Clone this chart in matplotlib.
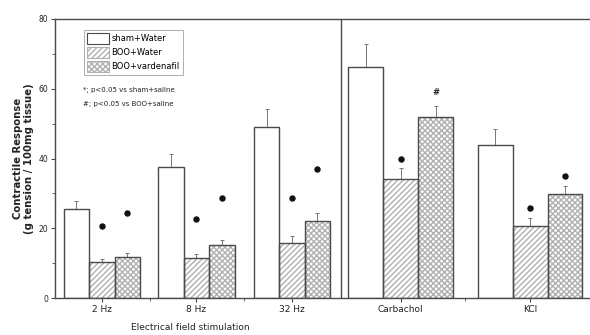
import matplotlib.pyplot as plt
import numpy as np

# data
groups = ['2 Hz', '8 Hz', '32 Hz', 'Carbachol', 'KCl']
series = ['sham+Water', 'BOO+Water', 'BOO+vardenafil']
sham = [25.4, 37.7, 48.9, 66.3, 44.0]
sham_err = [2.3, 3.5, 5.4, 6.6, 4.6]
boo_water = [10.3, 11.4, 15.7, 34.0, 20.6]
boo_water_err = [1.0, 1.2, 2.0, 3.4, 2.2]
boo_vard = [11.7, 15.1, 22.0, 52.0, 29.7]
boo_vard_err = [1.2, 1.5, 2.3, 3.0, 2.3]
# significance marks: (group, series index, y, symbol)
marks = [
    (0, 1, 20.6, '*'), (0, 2, 24.3, '*'),
    (1, 1, 22.6, '*'), (1, 2, 28.6, '*'),
    (2, 1, 28.6, '*'), (2, 2, 37.0, '*'),
    (3, 1, 40.0, '*'), (3, 2, 58.9, '#'),
    (4, 1, 25.7, '*'), (4, 2, 35.0, '*'),
]

# layout (x in pixel-ish units)
centers = [102, 197, 293, 402, 532]
widths = [25.5, 25.5, 25.5, 35, 35]

plt.rcParams['font.family'] = ['DejaVu Sans']
fig = plt.figure(figsize=(5.9, 3.35), dpi=100)
ax = fig.add_axes([55 / 590, 1 - 298 / 335, 1 - 55 / 590 + 0.01, (298 - 19) / 335])

edge = '#4a4a4a'
hatch_col = '#b0b0b0'
vals = [sham, boo_water, boo_vard]
errs = [sham_err, boo_water_err, boo_vard_err]
hatches = [None, '//////', 'xxxxxx']

for s in range(3):
    xs = [c + (s - 1) * w for c, w in zip(centers, widths)]
    if hatches[s]:
        ax.bar(xs, vals[s], width=widths, color='white', edgecolor=hatch_col,
               hatch=hatches[s], linewidth=0, zorder=2)
    ax.bar(xs, vals[s], width=widths, fill=False, edgecolor=edge, linewidth=1.0, zorder=3)
    ax.errorbar(xs, vals[s], yerr=[np.zeros(len(xs)), errs[s]], fmt='none',
                ecolor='#777777', elinewidth=0.7, capsize=1.5, capthick=0.7, zorder=1)

for g, s, y, sym in marks:
    x = centers[g] + (s - 1) * widths[g]
    if sym == '*':
        ax.plot(x, y, 'o', color='#111111', markersize=3.6, zorder=4)
    else:
        ax.text(x, y, '#', ha='center', va='center', fontsize=6, color='#222222', fontweight='bold')

ax.set_xlim(55, 598)
ax.set_ylim(0, 80)
ax.axvline(342, color=edge, linewidth=1.0)

ax.spines['right'].set_visible(False)
for sp in ['left', 'bottom', 'top']:
    ax.spines[sp].set_color(edge)
    ax.spines[sp].set_linewidth(1.0)

ax.set_yticks([0, 20, 40, 60, 80])
ax.set_yticks([10, 30, 50, 70], minor=True)
ax.set_xticks(centers)
ax.set_xticklabels(groups)
ax.set_xticks([150, 245, 467], minor=True)
ax.tick_params(axis='both', which='major', labelsize=6.5, length=3, width=0.8,
               color=edge, labelcolor='#222222', pad=2)
ax.tick_params(axis='both', which='minor', length=2, width=0.6, color=edge)
ax.tick_params(axis='y', labelsize=5.5)

ax.set_ylabel('Contractile Response\n(g tension / 100mg tissue)', fontsize=7.3,
              fontweight='bold', color='#222222', labelpad=3, linespacing=1.1)
fig.text(190 / 590, 1 - 327 / 335, 'Electrical field stimulation', ha='center', va='center',
         fontsize=6.5, color='#222222')

# legend
handles = [
    plt.Rectangle((0, 0), 1, 1, facecolor='white', edgecolor=edge, linewidth=0.8),
    plt.Rectangle((0, 0), 1, 1, facecolor='white', edgecolor=hatch_col, hatch='//////', linewidth=0.8),
    plt.Rectangle((0, 0), 1, 1, facecolor='white', edgecolor=hatch_col, hatch='xxxxxx', linewidth=0.8),
]
leg = ax.legend(handles, series, loc='upper left', bbox_to_anchor=(25 / 537, 0.975),
                fontsize=6, frameon=True, fancybox=False, edgecolor='#999999',
                handlelength=2.6, handleheight=1.7, borderpad=0.35, labelspacing=0.3,
                handletextpad=0.3)
leg.get_frame().set_linewidth(0.7)

fig.text(83 / 590, 1 - 90 / 335, '*; p<0.05 vs sham+saline', fontsize=5, va='center', color='#222222')
fig.text(83 / 590, 1 - 104 / 335, '#; p<0.05 vs BOO+saline', fontsize=5, va='center', color='#222222')

fig.savefig('out.png', dpi=100)
